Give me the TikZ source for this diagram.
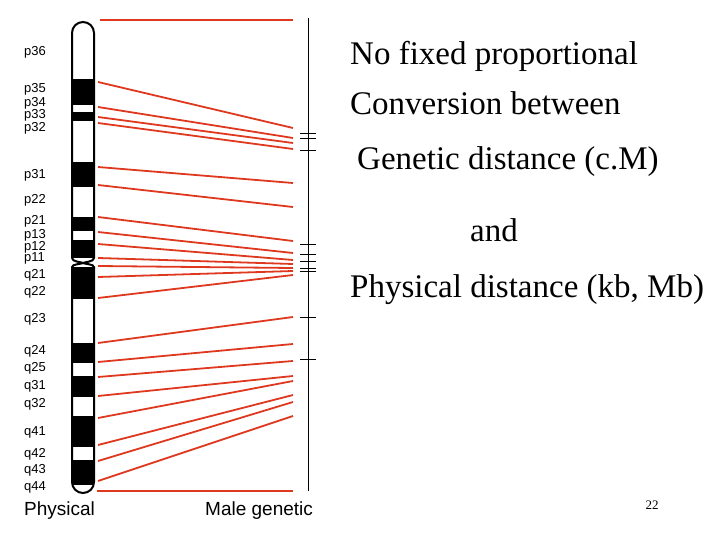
\documentclass[tikz,border=0pt]{standalone}
\usepackage{fontspec}
\setmainfont{Liberation Serif}
\newfontfamily\lsans{Liberation Sans}
\definecolor{lred}{RGB}{222,56,30}
\begin{document}
\begin{tikzpicture}[x=1pt,y=-1pt,
  link/.style={draw=lred,line width=1.8pt},
  lab/.style={font=\lsans\fontsize{13}{13}\selectfont,anchor=west,inner sep=0pt},
  big/.style={font=\fontsize{33}{35}\selectfont,anchor=west,inner sep=0pt}]
\useasboundingbox (0,0) rectangle (720,540);
% chromosome bands
\foreach \a/\b in {79/105,112/121,162/187,217/231,240/258,267/299,343/363,376/397,416/447,460/485}
  \fill (72,\a) rectangle (94,\b);
% outline
\draw[line width=2pt] (72,258) -- (72,33) arc[start angle=180,end angle=360,radius=11] -- (94,258)
  .. controls (94,262) and (84,262) .. (83,263) .. controls (84,264) and (94,264) .. (94,267)
  -- (94,482) arc[start angle=0,end angle=180,radius=11] -- (72,267)
  .. controls (72,264) and (82,264) .. (83,263) .. controls (82,262) and (72,262) .. (72,258);
% links
\draw[link] (100,20) -- (293,20);
\foreach \l/\r in {82/128,107/138,117/143,123/149,167/183,185/207,217/241,232/253,244/260,258/264,266/268,277/271,298/275,343/317,362/344,377/361,396/376,418/381,445/395,461/402,481/416}
  \draw[link] (98,\l) -- (293,\r);
\draw[link] (97,491) -- (293,491);
% axis
\coordinate (at) at (308,18); \coordinate (ab) at (308,491);
\draw[line width=1pt] (at) -- (ab);
\foreach \t in {133,138,150,244,254,261,268,271,317,359}
  \draw[line width=0.8pt] (300,\t) -- (316,\t);
% labels
\foreach \n/\y in {p36/52,p35/89,p34/103,p33/115,p32/128,p31/175,p22/200,p21/221,p13/235,p12/247,p11/258,q21/275,q22/292,q23/319,q24/351,q25/368,q31/386,q32/404,q41/432,q42/454,q43/470,q44/487}
  \node[lab] (l\n) at (24,\y) {\n};
\node[lab,font=\lsans\fontsize{19}{20}\selectfont] (phys) at (24,511) {Physical};
\node[lab,font=\lsans\fontsize{19}{20}\selectfont] (male) at (205,511) {Male genetic};
\node[big] (t1) at (350,56) {No fixed proportional};
\node[big] (t2) at (350,103) {Conversion between};
\node[big] (t3) at (357,162) {Genetic distance (c.M)};
\node[big] (t4) at (470,230) {and};
\node[big] (t5) at (350,290) {Physical distance (kb, Mb)};
\node[inner sep=0pt,font=\fontsize{13}{14}\selectfont] (pg) at (652,505) {22};
\end{tikzpicture}
\end{document}
